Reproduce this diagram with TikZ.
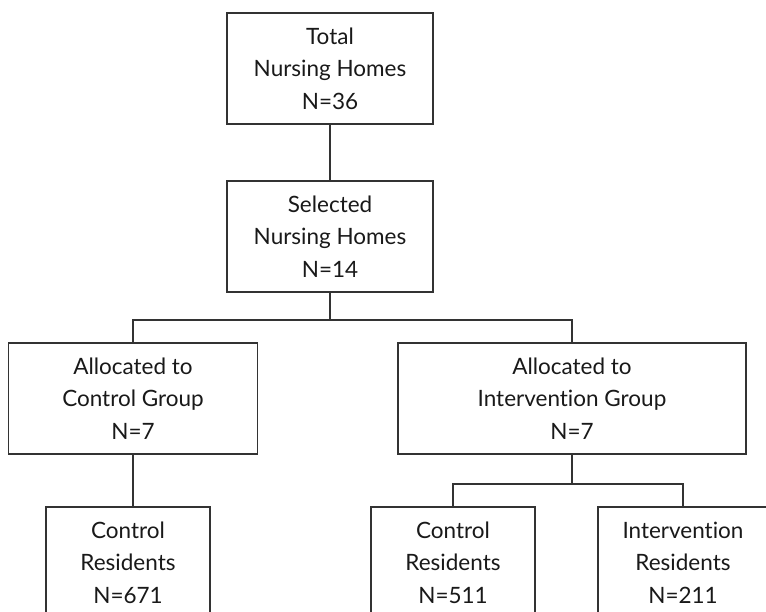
\documentclass[tikz,border=0pt]{standalone}
\usepackage{fontspec}
\setmainfont{Lato}[Ligatures={NoCommon,NoRare,NoDiscretionary},Contextuals={NoAlternate}]
\begin{document}
\begin{tikzpicture}[x=1pt,y=-1pt,
  box/.style={draw=black!80, line width=1.2pt, rectangle, align=center,
    minimum height=111pt, inner sep=0pt, text=black!90,
    font=\fontsize{22.5}{32.5}\selectfont},
  link/.style={draw=black!80, line width=1.2pt}]
\useasboundingbox (0,0) rectangle (766,611);
\clip (0,0) rectangle (766,611);
\node[box, minimum width=206pt] (b1) at (330,68.5) {Total\\Nursing Homes\\N=36};
\node[box, minimum width=206pt] (b2) at (330,236.5) {Selected\\Nursing Homes\\N=14};
\node[box, minimum width=249pt] (b3) at (133,398.5) {Allocated to\\Control Group\\N=7};
\node[box, minimum width=348pt] (b4) at (572,398.5) {Allocated to\\Intervention Group\\N=7};
\node[box, minimum width=164pt] (b5) at (128,562.5) {Control\\Residents\\N=671};
\node[box, minimum width=164pt] (b6) at (453,562.5) {Control\\Residents\\N=511};
\node[box, minimum width=170pt] (b7) at (683,562.5) {Intervention\\Residents\\N=211};
\coordinate (j1) at (330,320);
\coordinate (j2) at (572,484);
\draw[link] (b1.south) -- (b2.north);
\draw[link] (b2.south) -- (j1);
\draw[link] (j1) -| (b3.north);
\draw[link] (j1) -| (b4.north);
\draw[link] (b3.south) -- (b3.south |- b5.north);
\draw[link] (b4.south) -- (j2);
\draw[link] (j2) -| (b6.north);
\draw[link] (j2) -| (b7.north);
\end{tikzpicture}
\end{document}
